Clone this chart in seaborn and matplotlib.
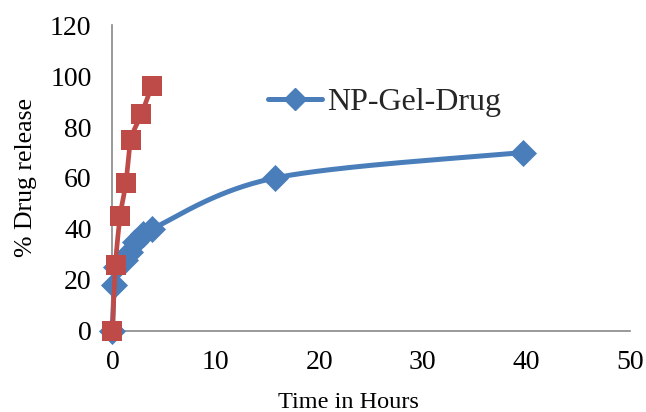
import numpy as np
import pandas as pd
import matplotlib
matplotlib.use("Agg")
import matplotlib.pyplot as plt
import seaborn as sns

# Release profiles (time in hours, cumulative % drug released)
gel_hours = [0, 0.15, 0.3, 1.2, 1.7, 2.2, 3.0, 3.8, 15.7, 39.7]
gel_release = [0, 18, 25, 28, 31, 35, 38, 40, 60, 70]
drug_hours = [0, 0.3, 0.75, 1.3, 1.8, 2.8, 3.8]
drug_release = [0, 26, 45, 58, 75, 85, 96]

x_ticks = [0, 10, 20, 30, 40, 50]
y_ticks = [0, 20, 40, 60, 80, 100, 120]

BLUE = "#4A7EBB"
RED = "#BE4B48"


def smooth_curve(xs, ys, steps=40):
    """Catmull-Rom style smoothing through every point (spreadsheet 'smoothed line')."""
    p = np.column_stack([xs, ys]).astype(float)
    p = np.vstack([p[0], p, p[-1]])
    out = []
    for i in range(1, len(p) - 2):
        p0, p1, p2, p3 = p[i - 1], p[i], p[i + 1], p[i + 2]
        c1 = p1 + (p2 - p0) / 6.0
        c2 = p2 - (p3 - p1) / 6.0
        t = np.linspace(0, 1, steps)[:, None]
        seg = ((1 - t) ** 3) * p1 + 3 * ((1 - t) ** 2) * t * c1 + 3 * (1 - t) * t ** 2 * c2 + t ** 3 * p2
        out.append(seg if i == 1 else seg[1:])
    s = np.vstack(out)
    return pd.DataFrame({"hours": s[:, 0], "release": s[:, 1]})


sns.set_theme(style="white")
plt.rcParams["font.family"] = ["Liberation Serif", "DejaVu Serif"]

fig = plt.figure(figsize=(6.46, 4.12), dpi=100)
ax = fig.add_axes([0.174, 0.197, 0.801, 0.742])

gel_df = pd.DataFrame({"hours": gel_hours, "release": gel_release})
drug_df = pd.DataFrame({"hours": drug_hours, "release": drug_release})

gel_curve = smooth_curve(gel_hours, gel_release)
drug_curve = smooth_curve(drug_hours, drug_release)

sns.lineplot(data=gel_curve, x="hours", y="release", sort=False, color=BLUE,
             lw=3.6, ax=ax, legend=False, solid_capstyle="round", clip_on=False)
sns.scatterplot(data=gel_df, x="hours", y="release", marker="D", s=190,
                color=BLUE, edgecolor=BLUE, linewidth=0, ax=ax, zorder=3,
                clip_on=False)

sns.lineplot(data=drug_curve, x="hours", y="release", sort=False, color=RED,
             lw=3.4, ax=ax, legend=False, zorder=4, clip_on=False)
sns.scatterplot(data=drug_df, x="hours", y="release", marker="s", s=210,
                color=RED, edgecolor=RED, linewidth=0, ax=ax, zorder=5,
                clip_on=False)

ax.set_xlim(0, 50)
ax.set_ylim(0, 120)
ax.set_xticks(x_ticks)
ax.set_yticks(y_ticks)
ax.tick_params(axis="both", length=0, labelsize=20, colors="black")
ax.tick_params(axis="x", pad=14)
ax.tick_params(axis="y", pad=15)

for side in ["top", "right"]:
    ax.spines[side].set_visible(False)
for side in ["left", "bottom"]:
    ax.spines[side].set_color("#878787")
    ax.spines[side].set_linewidth(1.2)

ax.set_xlabel("Time in Hours", fontsize=17.5, color="black")
ax.set_ylabel("% Drug release", fontsize=18.5, color="black")
ax.xaxis.set_label_coords(0.457, -0.20)
ax.yaxis.set_label_coords(-0.145, 0.5)

handle = matplotlib.lines.Line2D([], [], color=BLUE, lw=3.6, marker="D",
                                 markersize=11, solid_capstyle="round")
ax.legend([handle], ["NP-Gel-Drug"], loc="center left",
          bbox_to_anchor=(0.300, 0.748), frameon=False, fontsize=23,
          handlelength=1.7, handletextpad=0.15, borderpad=0, borderaxespad=0)

fig.savefig("out.png", dpi=100)
